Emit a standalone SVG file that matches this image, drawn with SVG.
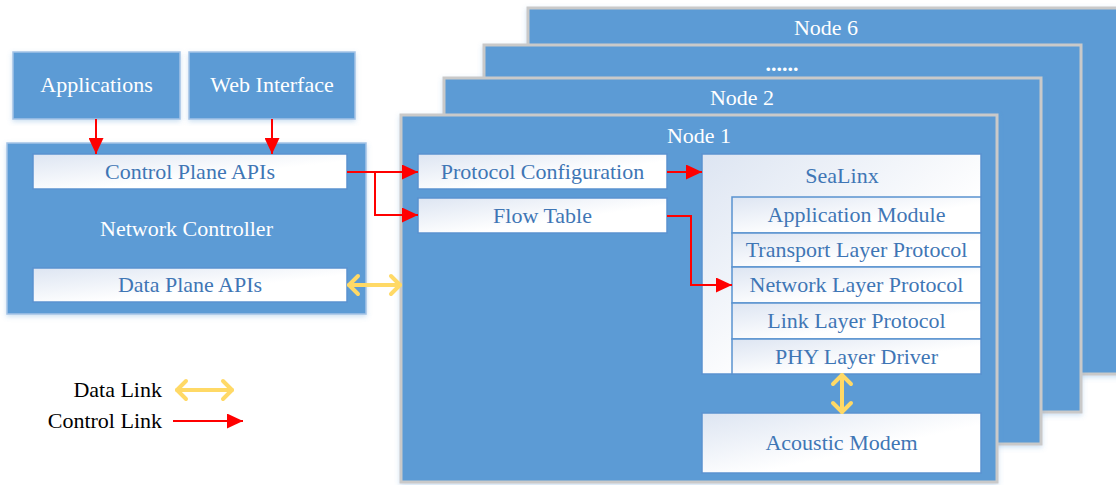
<svg xmlns="http://www.w3.org/2000/svg" width="1116" height="485" viewBox="0 0 1116 485">
  <style>
    .node { fill: #5b9bd5; stroke: #c9c9c9; stroke-width: 3; filter: url(#glow); }
    .blk { fill: #5b9bd5; stroke: #a4c3e6; stroke-width: 1.5; filter: url(#glow); }
    .box { fill: url(#paper); stroke: #5a92cf; stroke-width: 1.5; }
    text { font-family: 'Liberation Serif', 'Times New Roman', serif; font-size: 22px; }
    .wt { fill: #ffffff; text-anchor: middle; }
    .bt { fill: #3f76b5; text-anchor: middle; }
    .lt { fill: #000000; text-anchor: end; }
    .ctl { fill: none; stroke: #ff0000; stroke-width: 2; marker-end: url(#redHead); }
    .dat { fill: none; stroke: #ffd966; stroke-width: 4; stroke-linecap: round; marker-start: url(#chev); marker-end: url(#chev); }
  </style>
  <defs>
    <linearGradient id="paper" x1="0" y1="0" x2="1" y2="1">
      <stop offset="0" stop-color="#dde5f2"/>
      <stop offset="0.6" stop-color="#ffffff"/>
      <stop offset="1" stop-color="#ffffff"/>
    </linearGradient>
    <filter id="glow" x="-5%" y="-5%" width="110%" height="115%">
      <feDropShadow dx="0" dy="2" stdDeviation="2.5" flood-color="#5b9bd5" flood-opacity="0.3"/>
    </filter>
    <marker id="redHead" viewBox="0 0 16 15" refX="16" refY="7.5" markerWidth="16" markerHeight="15" markerUnits="userSpaceOnUse" orient="auto">
      <path d="M0,0 L16,7.5 L0,15 Z" fill="#ff0000"/>
    </marker>
    <marker id="chev" viewBox="-2 -12 14 24" refX="10" refY="0" markerWidth="14" markerHeight="24" markerUnits="userSpaceOnUse" orient="auto-start-reverse" overflow="visible">
      <path d="M1,-9 L10,0 L1,9" fill="none" stroke="#ffd966" stroke-width="4" stroke-linecap="round" stroke-linejoin="round"/>
    </marker>
  </defs>

  <!-- stacked node panels, back to front -->
  <g id="node6">
    <rect class="node" x="528" y="8" width="600" height="366"/>
    <text class="wt" x="826" y="35">Node 6</text>
  </g>
  <g id="node-more">
    <rect class="node" x="484" y="45" width="597" height="367"/>
    <text class="wt" x="782" y="71" font-weight="bold">......</text>
  </g>
  <g id="node2">
    <rect class="node" x="444" y="78" width="597" height="366"/>
    <text class="wt" x="742" y="105">Node 2</text>
  </g>
  <g id="node1">
    <rect class="node" x="401" y="115" width="596" height="367"/>
    <text class="wt" x="699" y="143">Node 1</text>
  </g>

  <g id="protocol-configuration">
    <rect class="box" x="418" y="154" width="249" height="35"/>
    <text class="bt" x="542.5" y="179">Protocol Configuration</text>
  </g>
  <g id="flow-table">
    <rect class="box" x="418" y="198" width="249" height="35"/>
    <text class="bt" x="542.5" y="223">Flow Table</text>
  </g>

  <g id="sealinx">
    <rect class="box" x="702" y="154" width="279" height="220"/>
    <text class="bt" x="842" y="183">SeaLinx</text>
  </g>
  <g id="application-module">
    <rect class="box" x="732" y="197" width="249" height="36"/>
    <text class="bt" x="856.5" y="222">Application Module</text>
  </g>
  <g id="transport-layer">
    <rect class="box" x="732" y="233" width="249" height="34"/>
    <text class="bt" x="856.5" y="257">Transport Layer Protocol</text>
  </g>
  <g id="network-layer">
    <rect class="box" x="732" y="267" width="249" height="36"/>
    <text class="bt" x="856.5" y="292">Network Layer Protocol</text>
  </g>
  <g id="link-layer">
    <rect class="box" x="732" y="303" width="249" height="36"/>
    <text class="bt" x="856.5" y="328">Link Layer Protocol</text>
  </g>
  <g id="phy-driver">
    <rect class="box" x="732" y="339" width="249" height="35"/>
    <text class="bt" x="856.5" y="364">PHY Layer Driver</text>
  </g>
  <g id="acoustic-modem">
    <rect class="box" x="702" y="413" width="279" height="60"/>
    <text class="bt" x="841.5" y="450">Acoustic Modem</text>
  </g>

  <!-- controller side -->
  <g id="applications">
    <rect class="blk" x="13" y="52" width="167" height="67"/>
    <text class="wt" x="96.5" y="92">Applications</text>
  </g>
  <g id="web-interface">
    <rect class="blk" x="189" y="52" width="166" height="67"/>
    <text class="wt" x="272" y="92">Web Interface</text>
  </g>
  <g id="network-controller">
    <rect class="blk" x="7" y="143" width="359" height="171"/>
    <text class="wt" x="186.5" y="236">Network Controller</text>
  </g>
  <g id="control-plane-apis">
    <rect class="box" x="33" y="154" width="314" height="35"/>
    <text class="bt" x="190" y="179">Control Plane APIs</text>
  </g>
  <g id="data-plane-apis">
    <rect class="box" x="33" y="268" width="314" height="34"/>
    <text class="bt" x="190" y="292">Data Plane APIs</text>
  </g>

  <!-- connectors -->
  <g id="connectors">
    <path class="ctl" d="M96,119 V154"/>
    <path class="ctl" d="M272,119 V154"/>
    <path class="ctl" d="M347,172 H418"/>
    <path class="ctl" d="M375,172 V215 H418"/>
    <path class="ctl" d="M667,172 H702"/>
    <path class="ctl" d="M667,216 H691 V285 H732"/>
    <path class="dat" d="M349,285 H400"/>
    <path class="dat" d="M842,375 V412"/>
  </g>

  <!-- legend -->
  <g id="legend">
    <text class="lt" x="162" y="397">Data Link</text>
    <path class="dat" d="M177,390 H232"/>
    <text class="lt" x="162" y="428">Control Link</text>
    <path class="ctl" d="M173,421 H243"/>
  </g>
</svg>
